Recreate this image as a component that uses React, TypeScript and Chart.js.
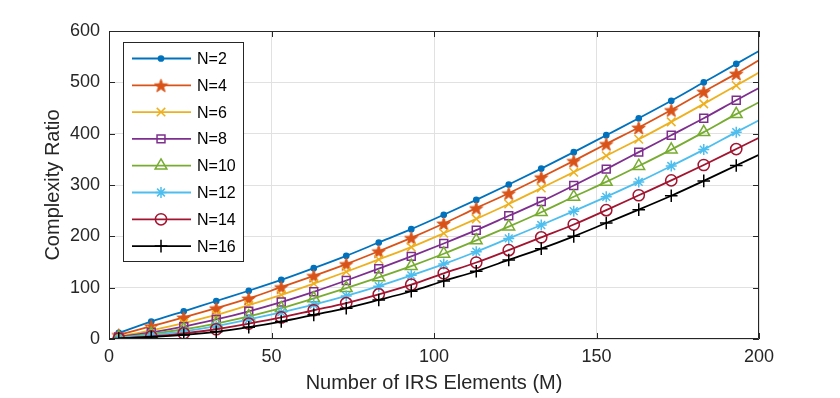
import React, { useEffect, useRef } from 'react';
import { Chart, registerables } from 'chart.js';
import { drawPoint } from 'chart.js/helpers';

Chart.register(...registerables);

// ---- data ----
const M = [3, 13, 23, 33, 43, 53, 63, 73, 83, 93, 103, 113, 123, 133, 143, 153, 163, 173, 183, 193, 200];
const N2 = [12, 34, 54, 74, 94, 115, 138, 162, 188, 214, 242, 271, 301, 332, 364, 397, 430, 464, 500, 536, 561];
const N4 = [8, 25, 42, 60, 79, 101, 123, 146, 171, 197, 225, 255, 284, 315, 347, 380, 412, 446, 482, 517, 543];
const N6 = [5, 17, 31, 47, 66, 86, 108, 131, 155, 179, 206, 234, 263, 294, 325, 357, 389, 423, 458, 494, 519];
const N8 = [4, 13, 24, 38, 54, 72, 92, 114, 137, 161, 186, 212, 240, 268, 299, 331, 364, 397, 430, 465, 489];
const N10 = [3, 10, 19, 30, 44, 60, 79, 99, 120, 142, 166, 192, 219, 247, 277, 306, 337, 369, 403, 438, 461];
const N12 = [2, 8, 15, 25, 38, 52, 67, 84, 103, 124, 146, 170, 196, 222, 249, 277, 306, 337, 369, 403, 426];
const N14 = [1, 5, 11, 19, 30, 42, 56, 70, 87, 106, 128, 149, 173, 198, 223, 251, 280, 309, 339, 370, 392];
const N16 = [1, 4, 8, 14, 23, 34, 47, 60, 76, 93, 113, 132, 154, 176, 200, 226, 252, 279, 308, 338, 359];
const seriesLabels = ['N=2', 'N=4', 'N=6', 'N=8', 'N=10', 'N=12', 'N=14', 'N=16'];
const seriesValues = [N2, N4, N6, N8, N10, N12, N14, N16];
const xTicks = [0, 50, 100, 150, 200];
const yTicks = [0, 100, 200, 300, 400, 500, 600];
const xTitle = 'Number of IRS Elements (M)';
const yTitle = 'Complexity Ratio';

// ---- styles ----
const colors = ['#0072BD', '#D95319', '#EDB120', '#7E2F8E', '#77AC30', '#4DBEEE', '#A2142F', '#000000'];
const FONT = "'Liberation Sans', Arial, Helvetica, sans-serif";
const TEXT = '#262626';

function makePentagram(color: string, size: number) {
  const c = document.createElement('canvas');
  c.width = size;
  c.height = size;
  const g = c.getContext('2d')!;
  const cx = size / 2, cy = size / 2 + 0.8;
  const R = size / 2 - 0.5, r = R * 0.40;
  g.beginPath();
  for (let i = 0; i < 10; i++) {
    const rad = -Math.PI / 2 + (i * Math.PI) / 5;
    const rr = i % 2 === 0 ? R : r;
    const px = cx + Math.cos(rad) * rr, py = cy + Math.sin(rad) * rr;
    if (i === 0) g.moveTo(px, py); else g.lineTo(px, py);
  }
  g.closePath();
  g.fillStyle = color;
  g.fill();
  g.strokeStyle = color;
  g.lineWidth = 1;
  g.stroke();
  return c;
}

export default function App() {
  const ref = useRef<HTMLCanvasElement | null>(null);

  useEffect(() => {
    if (!ref.current) return;
    const star = makePentagram(colors[1], 15);
    const styles: any[] = ['circle', star, 'crossRot', 'rect', 'triangle', 'star', 'circle', 'cross'];
    const radii = [2.6, 7, 6, 5.6, 6.8, 5.5, 5.6, 6.3];
    const filled = [true, true, false, false, false, false, false, false];

    const last = M.length - 1;
    const datasets = seriesValues.map((vals, i) => ({
      label: seriesLabels[i],
      data: M.map((m, j) => ({ x: m, y: vals[j] })),
      borderColor: colors[i],
      backgroundColor: colors[i],
      borderWidth: 1.8,
      pointStyle: styles[i],
      pointRadius: (c: any) => (c.dataIndex === last ? 0 : radii[i]),
      pointHoverRadius: (c: any) => (c.dataIndex === last ? 0 : radii[i]),
      pointBorderColor: colors[i],
      pointBackgroundColor: filled[i] ? colors[i] : 'rgba(0,0,0,0)',
      pointBorderWidth: 1.5,
      cubicInterpolationMode: 'monotone' as const,
      fill: false,
      order: 8 - i,
    }));

    const framePlugin = {
      id: 'frameLegend',
      afterDraw(chart: any) {
        const { ctx, chartArea } = chart;
        const { left, right, top, bottom } = chartArea;
        const xs = chart.scales.x, ys = chart.scales.y;
        ctx.save();
        ctx.strokeStyle = TEXT;
        ctx.lineWidth = 1;
        ctx.beginPath();
        ctx.rect(left + 0.5, top + 0.5, right - left - 1, bottom - top - 1);
        ctx.stroke();
        const tl = 6;
        ctx.beginPath();
        xTicks.forEach((v) => {
          const p = Math.round(xs.getPixelForValue(v)) + 0.5;
          ctx.moveTo(p, bottom);
          ctx.lineTo(p, bottom - tl);
          ctx.moveTo(p, top);
          ctx.lineTo(p, top + tl);
        });
        yTicks.forEach((v) => {
          const p = Math.round(ys.getPixelForValue(v)) + 0.5;
          ctx.moveTo(left, p);
          ctx.lineTo(left + tl, p);
          ctx.moveTo(right, p);
          ctx.lineTo(right - tl, p);
        });
        ctx.stroke();

        // legend
        const bx = 123, by = 42, bw = 120, bh = 219;
        ctx.fillStyle = '#ffffff';
        ctx.fillRect(bx, by, bw, bh);
        ctx.strokeStyle = TEXT;
        ctx.lineWidth = 1;
        ctx.strokeRect(bx + 0.5, by + 0.5, bw, bh);
        ctx.font = `16px ${FONT}`;
        ctx.textBaseline = 'middle';
        ctx.textAlign = 'left';
        seriesLabels.forEach((lab, i) => {
          const y = 58.5 + i * 26.8;
          ctx.strokeStyle = colors[i];
          ctx.lineWidth = 1.8;
          ctx.beginPath();
          ctx.moveTo(132, y);
          ctx.lineTo(191, y);
          ctx.stroke();
          ctx.fillStyle = filled[i] ? colors[i] : 'rgba(0,0,0,0)';
          ctx.lineWidth = 1.5;
          drawPoint(ctx, { pointStyle: styles[i], radius: radii[i], borderWidth: 1.5, rotation: 0 } as any, 161, y);
          ctx.fillStyle = '#000000';
          ctx.fillText(lab, 197, y + 1);
        });
        ctx.restore();
      },
    };

    const chart = new Chart(ref.current, {
      type: 'line',
      data: { datasets },
      options: {
        animation: false,
        responsive: false,
        maintainAspectRatio: false,
        layout: { padding: { top: 31, right: 81, left: 0, bottom: 0 } },
        plugins: { legend: { display: false }, tooltip: { enabled: false } },
        scales: {
          x: {
            type: 'linear',
            min: 0,
            max: 200,
            afterBuildTicks: (s: any) => { s.ticks = xTicks.map((v) => ({ value: v })); },
            afterFit: (s: any) => { s.height = 59; },
            ticks: { color: TEXT, font: { family: FONT, size: 18 }, padding: 7, maxRotation: 0 },
            grid: { color: '#e1e1e1', drawTicks: false, lineWidth: 1 },
            border: { display: false },
            title: { display: true, text: xTitle, color: TEXT, font: { family: FONT, size: 20 }, padding: { top: 0, bottom: 3 } },
          },
          y: {
            type: 'linear',
            min: 0,
            max: 600,
            afterBuildTicks: (s: any) => { s.ticks = yTicks.map((v) => ({ value: v })); },
            afterFit: (s: any) => { s.width = 109; },
            ticks: { color: TEXT, font: { family: FONT, size: 18 }, padding: 9 },
            grid: { color: '#e1e1e1', drawTicks: false, lineWidth: 1 },
            border: { display: false },
            title: { display: true, text: yTitle, color: TEXT, font: { family: FONT, size: 20 }, padding: { top: 41, bottom: 0 } },
          },
        },
      },
      plugins: [framePlugin],
    } as any);
    return () => chart.destroy();
  }, []);

  return (
    <div style={{ position: 'absolute', left: 0, top: 0, width: 840, height: 398, background: '#fff' }}>
      <canvas ref={ref} width={840} height={398} style={{ width: 840, height: 398, display: 'block' }} />
    </div>
  );
}
